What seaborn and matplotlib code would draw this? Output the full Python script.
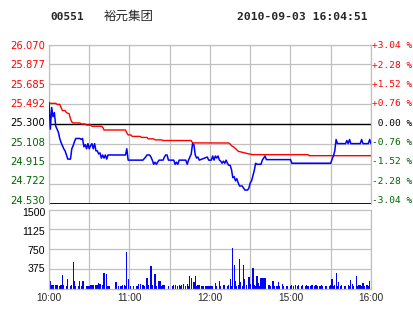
import matplotlib
matplotlib.use("Agg")
import matplotlib.pyplot as plt
import seaborn as sns
import pandas as pd

# ---------------- data ----------------
price_levels = [26.070, 25.877, 25.685, 25.492, 25.300, 25.108, 24.915, 24.722, 24.530]
price_labels = ["26.070", "25.877", "25.685", "25.492", "25.300", "25.108", "24.915", "24.722", "24.530"]
pct_labels = ["+3.04 %", "+2.28 %", "+1.52 %", "+0.76 %", " 0.00 %", "-0.76 %", "-1.52 %", "-2.28 %", "-3.04 %"]
prev_close = 25.300

time_ticks = [0, 60, 120, 180, 240]
time_labels = ["10:00", "11:00", "12:00", "15:00", "16:00"]

vol_ticks = [1500, 1125, 750, 375]
vol_labels = ["1500", "1125", "750", "375"]

# price line (minute, price)
price_min = [0, 1, 2, 3, 4, 5, 6, 7, 8, 9, 10, 11, 12, 13, 14, 16, 17, 18, 19, 20, 23, 24, 25, 26, 27,
             28, 29, 30, 31, 32, 33, 34, 35, 36, 37, 38, 39, 40, 41, 42, 43, 44, 57, 58, 59, 70, 72, 73,
             75, 76, 77, 78, 79, 80, 81, 82, 85, 86, 87, 88, 89, 93, 94, 95, 96, 97, 102, 103, 104, 105,
             106, 107, 108, 109, 110, 111, 112, 118, 119, 121, 122, 123, 124, 125, 126, 127, 128, 129,
             130, 131, 132, 133, 134, 135, 136, 137, 138, 139, 140, 141, 142, 144, 145, 146, 148, 149,
             150, 151, 152, 153, 154, 155, 156, 158, 159, 160, 161, 162, 180, 181, 210, 211, 212, 213,
             214, 215, 221, 222, 223, 224, 225, 232, 233, 234, 238, 239, 240]
price_val = [25.51, 25.25, 25.46, 25.37, 25.41, 25.28, 25.25, 25.22, 25.16, 25.12, 25.09, 25.06, 25.04,
             25.00, 24.96, 24.96, 25.06, 25.09, 25.13, 25.16, 25.16, 25.15, 25.16, 25.08, 25.10,
             25.06, 25.11, 25.06, 25.09, 25.11, 25.06, 25.11, 25.04, 25.04, 25.01, 25.02, 24.97, 25.00,
             24.97, 25.00, 24.96, 25.00, 25.00, 25.06, 24.95, 24.95, 24.98, 25.00,
             25.00, 24.98, 24.95, 24.91, 24.93, 24.91, 24.93, 24.95, 24.95, 24.98, 25.00, 25.00, 24.95,
             24.95, 24.91, 24.93, 24.91, 24.95, 24.95, 24.91, 24.95, 24.98,
             25.01, 25.11, 25.10, 25.00, 24.97, 24.98, 24.95, 24.98, 24.95, 24.95, 24.99, 24.95, 24.99,
             24.97, 24.99, 24.95, 24.94, 24.92,
             24.94, 24.92, 24.95, 24.92, 24.90, 24.90, 24.86, 24.78, 24.79, 24.75, 24.77, 24.73, 24.70,
             24.70, 24.68, 24.66, 24.66, 24.68,
             24.73, 24.75, 24.80, 24.85, 24.92, 24.91, 24.91, 24.91, 24.95, 24.97, 24.99, 24.955,
             24.955, 24.92, 24.92, 24.96, 24.99, 25.04,
             25.15, 25.11, 25.11, 25.14, 25.11, 25.15, 25.11, 25.11, 25.15, 25.11, 25.11, 25.15, 25.11]

# average price line (minute, price)
avg_min = [0, 5, 6, 8, 9, 10, 12, 13, 15, 16, 17, 18, 23, 24, 27, 28, 31, 32, 39, 40, 41, 57, 58, 59,
           61, 62, 68, 69, 73, 74, 78, 79, 84, 85, 106, 107, 134, 135, 136, 138, 140, 141, 144, 146,
           149, 152, 193, 194, 240]
avg_val = [25.50, 25.50, 25.49, 25.49, 25.46, 25.43, 25.43, 25.41, 25.40, 25.35, 25.32, 25.31, 25.31,
           25.30, 25.30, 25.29, 25.29, 25.278, 25.278, 25.27, 25.242, 25.242, 25.213, 25.194,
           25.194, 25.18, 25.18, 25.17, 25.17, 25.156, 25.156, 25.146, 25.146, 25.14, 25.14, 25.117,
           25.116, 25.106, 25.09, 25.074, 25.05, 25.036, 25.026, 25.02,
           25.01, 25.003, 25.003, 24.993, 24.993]

# volume per minute (0..240)
volume = [1460, 140, 60, 60, 0, 75, 75, 0, 50, 75, 250, 60, 0, 50, 175, 0, 50, 60, 500, 140,
          50, 0, 40, 140, 45, 140, 140, 0, 50, 50, 40, 60, 60, 60, 0, 60, 60, 100, 80, 0,
          60, 285, 0, 270, 45, 45, 0, 0, 0, 0, 115, 0, 45, 45, 45, 60, 60, 45, 690, 175,
          0, 40, 0, 40, 0, 45, 45, 80, 80, 0, 75, 45, 0, 195, 75, 0, 425, 60, 0, 270,
          40, 0, 140, 140, 45, 60, 60, 0, 0, 50, 0, 0, 50, 75, 75, 0, 40, 75, 40, 75,
          80, 0, 45, 80, 45, 235, 195, 0, 115, 235, 40, 75, 75, 0, 50, 50, 0, 50, 50, 50,
          45, 50, 45, 0, 95, 40, 0, 140, 45, 0, 75, 75, 0, 40, 60, 175, 50, 765, 445, 140,
          40, 60, 555, 125, 40, 445, 175, 60, 0, 215, 80, 0, 385, 60, 40, 235, 95, 40, 195, 195,
          195, 195, 0, 0, 60, 40, 0, 140, 40, 0, 45, 120, 45, 0, 80, 45, 0, 45, 45, 0,
          45, 60, 45, 0, 60, 45, 60, 0, 45, 60, 0, 45, 60, 45, 0, 45, 60, 0, 45, 60,
          45, 0, 45, 60, 45, 0, 45, 45, 0, 45, 60, 185, 45, 60, 290, 50, 120, 45, 60, 0,
          45, 45, 0, 60, 45, 160, 80, 45, 0, 235, 45, 60, 60, 45, 100, 45, 0, 60, 45, 140, 0]
minutes = list(range(len(volume)))

# ---------------- figure ----------------
sns.set_style("white")
plt.rcParams["font.family"] = ["DejaVu Sans", "Noto Sans CJK SC"]

W, H = 414, 314
fig = plt.figure(figsize=(W / 100, H / 100), dpi=100)
fig.patch.set_facecolor("white")

GRID = "#c0c0c0"
RED = "#ff0000"
GREEN = "#006400"
BLUE = "#0000ff"

P_TOP, P_BOT = 44.5, 203.5
V_TOP, V_BOT = 209.5, 288.5
X_L, X_R = 49, 371

ax1 = fig.add_axes([X_L / W, 1 - P_BOT / H, (X_R - X_L) / W, (P_BOT - P_TOP) / H])
ax2 = fig.add_axes([X_L / W, 1 - V_BOT / H, (X_R - X_L) / W, (V_BOT - V_TOP) / H])


def level_color(v):
    if v > prev_close:
        return RED
    if v == prev_close:
        return "black"
    return GREEN


# price panel
df_p = pd.DataFrame({"minute": price_min, "price": price_val})
df_a = pd.DataFrame({"minute": avg_min, "price": avg_val})
for y in price_levels:
    if y not in (prev_close, price_levels[-1]):
        ax1.axhline(y, color=GRID, lw=0.9, zorder=0)
for x in range(0, 241, 30):
    ax1.axvline(x, color=GRID, lw=0.9, zorder=0)
ax1.axhline(prev_close, color="black", lw=1.0, zorder=1)
ax1.axhline(price_levels[-1], color="black", lw=1.3, zorder=1)
sns.lineplot(data=df_a, x="minute", y="price", ax=ax1, color=RED, lw=1.0, sort=False, zorder=2)
sns.lineplot(data=df_p, x="minute", y="price", ax=ax1, color=BLUE, lw=1.1, sort=False, zorder=3)
ax1.set_xlim(0, 240)
ax1.set_ylim(price_levels[-1], price_levels[0])
ax1.set_xticks([])
ax1.set_yticks([])
ax1.set_xlabel("")
ax1.set_ylabel("")
for s in ["top", "left", "right"]:
    ax1.spines[s].set_color(GRID)
    ax1.spines[s].set_linewidth(0.9)
ax1.spines["bottom"].set_visible(False)

# price labels (reference places them evenly from y=46 to y=200 px)
n = len(price_levels)
for i, (v, lab, pl) in enumerate(zip(price_levels, price_labels, pct_labels)):
    ypx = 46 + i * (200.5 - 46) / (n - 1)
    yf = 1 - (ypx - P_TOP) / (P_BOT - P_TOP)
    ax1.text(-4 / (X_R - X_L), yf, lab, transform=ax1.transAxes, ha="right", va="center",
             fontsize=7.2, family="DejaVu Sans", color=level_color(v))
    ax1.text(1 + 1 / (X_R - X_L), yf, pl, transform=ax1.transAxes, ha="left", va="center",
             fontsize=6.8, family="DejaVu Sans Mono", color=level_color(v))

# volume panel
df_v = pd.DataFrame({"minute": minutes, "vol": volume})
for y in vol_ticks[1:]:
    ax2.axhline(y, color=GRID, lw=0.9, zorder=0)
for x in range(0, 241, 30):
    ax2.axvline(x, color=GRID, lw=0.9, zorder=0)
sns.barplot(data=df_v, x="minute", y="vol", ax=ax2, native_scale=True, width=0.9,
            color=BLUE, saturation=1, errorbar=None, linewidth=0, zorder=2)
ax2.set_xlim(0, 240)
ax2.set_ylim(0, 1500)
ax2.set_xlabel("")
ax2.set_ylabel("")
ax2.set_xticks(time_ticks)
ax2.set_xticklabels(time_labels, fontsize=7.2, family="Liberation Sans")
ax2.set_yticks([])
ax2.tick_params(axis="both", length=0)
ax2.tick_params(axis="x", pad=3)
for s in ax2.spines.values():
    s.set_color(GRID)
    s.set_linewidth(0.9)
    s.set_visible(True)

vol_label_px = [213, 232, 250.5, 269]
for lab, ypx in zip(vol_labels, vol_label_px):
    yf = 1 - (ypx - V_TOP) / (V_BOT - V_TOP)
    ax2.text(-4 / (X_R - X_L), yf, lab, transform=ax2.transAxes, ha="right", va="center",
             fontsize=7.6, family="Liberation Sans", color="black")

# header
fig.text(50 / W, 1 - 17 / H, "00551", fontsize=8, fontweight="bold", family="DejaVu Sans Mono", va="center")
fig.text(104 / W, 1 - 16 / H, "裕元集团", fontsize=9, family="Noto Sans CJK SC", va="center")
fig.text(237 / W, 1 - 17 / H, "2010-09-03 16:04:51", fontsize=8.2, fontweight="bold",
         family="DejaVu Sans Mono", va="center")

fig.savefig("out.png", dpi=100, facecolor="white")
